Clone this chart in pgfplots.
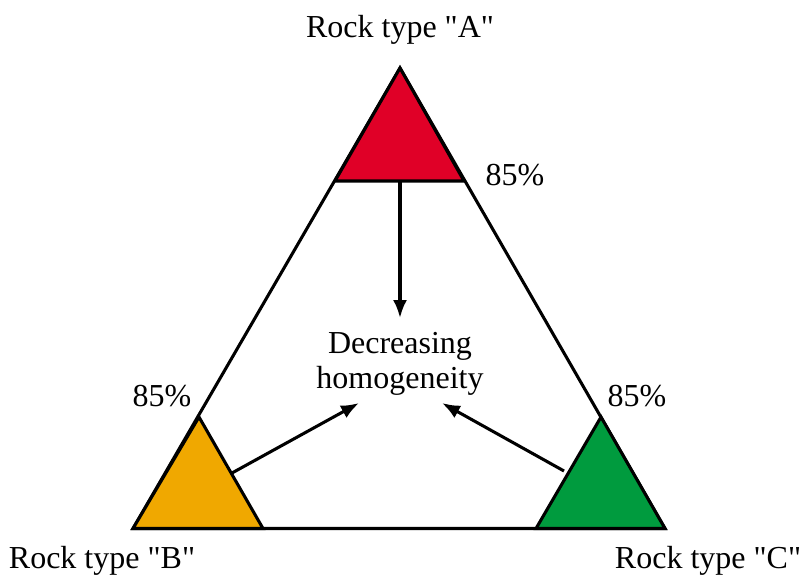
\documentclass[border=0pt]{standalone}
\usepackage{pgfplots}
\pgfplotsset{compat=1.18}
\usepackage{fontspec}
\setmainfont{Liberation Serif}[Ligatures=TeXOff]
\usetikzlibrary{arrows.meta}
\definecolor{cred}{HTML}{E00027}
\definecolor{corange}{HTML}{F0A800}
\definecolor{cgreen}{HTML}{009B3E}
\begin{document}
\begin{tikzpicture}[font=\fontsize{24}{26.5}\selectfont]
\begin{axis}[
  scale only axis, width=603pt, height=433.5pt,
  xmin=0, xmax=804, ymin=0, ymax=578, y dir=reverse,
  hide axis, clip=false,
]
% invisible frame for bounding box
\addplot[draw=none] coordinates {(0,0) (804,578)};
\coordinate (ll) at (axis cs:0,578);
\coordinate (ur) at (axis cs:804,0);
% outer triangle
\addplot[black, line width=2.3pt, line join=miter] coordinates {(400,68) (665,528.5) (133,528.5)} -- cycle;
% corner triangles
\addplot[fill=cred, draw=black, line width=2.3pt] coordinates {(400,68) (464,181) (335,181)} -- cycle;
\addplot[fill=corange, draw=black, line width=2.3pt] coordinates {(133,528.5) (263,528.5) (199,417)} -- cycle;
\addplot[fill=cgreen, draw=black, line width=2.3pt] coordinates {(536,528.5) (665,528.5) (601,417)} -- cycle;
% arrows
\addplot[black, line width=2.3pt, -{Latex[length=13.5pt,width=10.5pt]}] coordinates {(400,181) (400,318)};
\addplot[black, line width=2.3pt, -{Latex[length=13.5pt,width=10.5pt]}] coordinates {(232,473) (359,403)};
\addplot[black, line width=2.3pt, -{Latex[length=13.5pt,width=10.5pt]}] coordinates {(564,471) (442,403)};
% labels
\node at (axis cs:400,30) {Rock type "A"};
\node at (axis cs:102,561) {Rock type "B"};
\node at (axis cs:708,561) {Rock type "C"};
\node at (axis cs:515,175) {85\%};
\node at (axis cs:162,396) {85\%};
\node at (axis cs:637,396) {85\%};
\node[align=center] at (axis cs:400,364) {Decreasing\\homogeneity};
\end{axis}
\pgfresetboundingbox
\path[use as bounding box] (ll) rectangle (ur);
\end{tikzpicture}
\end{document}
